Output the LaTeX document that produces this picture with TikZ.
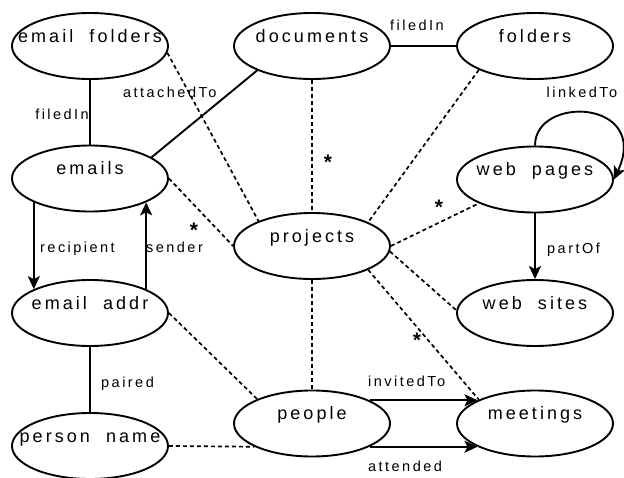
\documentclass[tikz,border=0pt]{standalone}
\usepackage{fontspec}
\setmainfont{Liberation Sans}[LetterSpace=17,WordSpace=2]
\newfontfamily\plainf{Liberation Sans}
\usetikzlibrary{shapes.geometric,arrows.meta}
\begin{document}
\begin{tikzpicture}[x=1pt,y=-1pt,
  ent/.style={ellipse, draw, line width=1.9pt, minimum width=156pt, minimum height=66pt, inner sep=0pt},
  etxt/.style={anchor=base, inner sep=0pt, font=\fontsize{18}{20}\selectfont},
  lbl/.style={inner sep=0pt, font=\fontsize{14.5}{17}\selectfont},
  star/.style={anchor=base, inner sep=0pt, font=\plainf\bfseries\fontsize{21}{24}\selectfont},
  sol/.style={line width=1.9pt},
  dsh/.style={line width=1.7pt, dash pattern=on 4pt off 3pt},
  arr/.style={sol, -{Stealth[length=13pt,width=12pt,inset=3pt]}},
]
\clip (0,0) rectangle (624,477);
% entities
\node[ent] (efold)  at (90,46)    {};
\node[ent] (docs)   at (312,46)   {};
\node[ent] (fold)   at (535,46)   {};
\node[ent] (emails) at (90,178.5) {};
\node[ent] (webp)   at (535,179.5){};
\node[ent] (proj)   at (312,246)  {};
\node[ent] (eaddr)  at (90,313)   {};
\node[ent] (webs)   at (535,313)  {};
\node[ent] (people) at (312,423.5){};
\node[ent] (meet)   at (535,423.5){};
\node[ent] (pname)  at (90,446)   {};
% entity texts
\node[etxt] (efoldT)  at ([yshift=4pt]efold.center)  {email folders};
\node[etxt] (docsT)   at ([yshift=4pt]docs.center)   {documents};
\node[etxt] (foldT)   at ([yshift=4pt]fold.center)   {folders};
\node[etxt] (emailsT) at ([yshift=4pt]emails.center) {emails};
\node[etxt] (webpT)   at ([yshift=4pt]webp.center)   {web pages};
\node[etxt] (projT)   at ([yshift=4pt]proj.center)   {projects};
\node[etxt] (eaddrT)  at ([yshift=4pt]eaddr.center)  {email addr};
\node[etxt] (websT)   at ([yshift=4pt]webs.center)   {web sites};
\node[etxt] (peopleT) at ([yshift=4pt]people.center) {people};
\node[etxt] (meetT)   at ([yshift=4pt]meet.center)   {meetings};
\node[etxt] (pnameT)  at ([yshift=4pt]pname.center)  {person name};
% solid connectors
\draw[sol] (efold.south) -- (emails.north);
\draw[sol] (emails.19) -- (docs.204);
\draw[sol] (docs.east) -- (fold.west);
\draw[sol] (eaddr.south) -- (pname.north);
% arrows
\draw[arr] (emails.203) -- (eaddr.157);
\draw[arr] (eaddr.23) -- (emails.337);
\draw[arr] (webp.south) -- (webs.north);
\draw[arr] (people.22) -- (meet.158);
\draw[arr] (people.338) -- (meet.202);
\draw[arr] (webp.north) .. controls +(0,-51) and +(37,-80) .. (webp.east);
% dashed connectors
\draw[dsh] (efold.355) -- (proj.155);
\draw[dsh] (docs.south) -- (proj.north);
\draw[dsh] (fold.203) -- (proj.23);
\draw[dsh] (proj.0) -- (webp.203);
\draw[dsh] (proj.356) -- (webs.178);
\draw[dsh] (proj.337) -- (meet.157);
\draw[dsh] (proj.south) -- (people.north);
\draw[dsh] (emails.east) -- (proj.west);
\draw[dsh] (eaddr.east) -- (people.156);
\draw[dsh] (pname.east) -- (people.202);
% labels
\node[lbl, anchor=base east] (lFiled1) at (89,119) {filedIn};
\node[lbl, anchor=base west] (lAttach) at (123,97) {attachedTo};
\node[lbl, anchor=base west] (lFiled2) at (390,30) {filedIn};
\node[lbl, anchor=base west] (lLinked) at (546.5,97) {linkedTo};
\node[lbl, anchor=base west] (lRecip)  at (40,252.5) {recipient};
\node[lbl, anchor=base west] (lSender) at (146,252.5) {sender};
\node[lbl, anchor=base west] (lPart)   at (547,253) {partOf};
\node[lbl, anchor=base west] (lPaired) at (101,387) {paired};
\node[lbl, anchor=base west] (lInvite) at (368,386.5) {invitedTo};
\node[lbl, anchor=base west] (lAttend) at (368,471.5) {attended};
% stars
\node[star] (s1) at (328,169.5) {*};
\node[star] (s2) at (439,214.5) {*};
\node[star] (s3) at (194,237.5) {*};
\node[star] (s4) at (417,347.5) {*};
\end{tikzpicture}
\end{document}
